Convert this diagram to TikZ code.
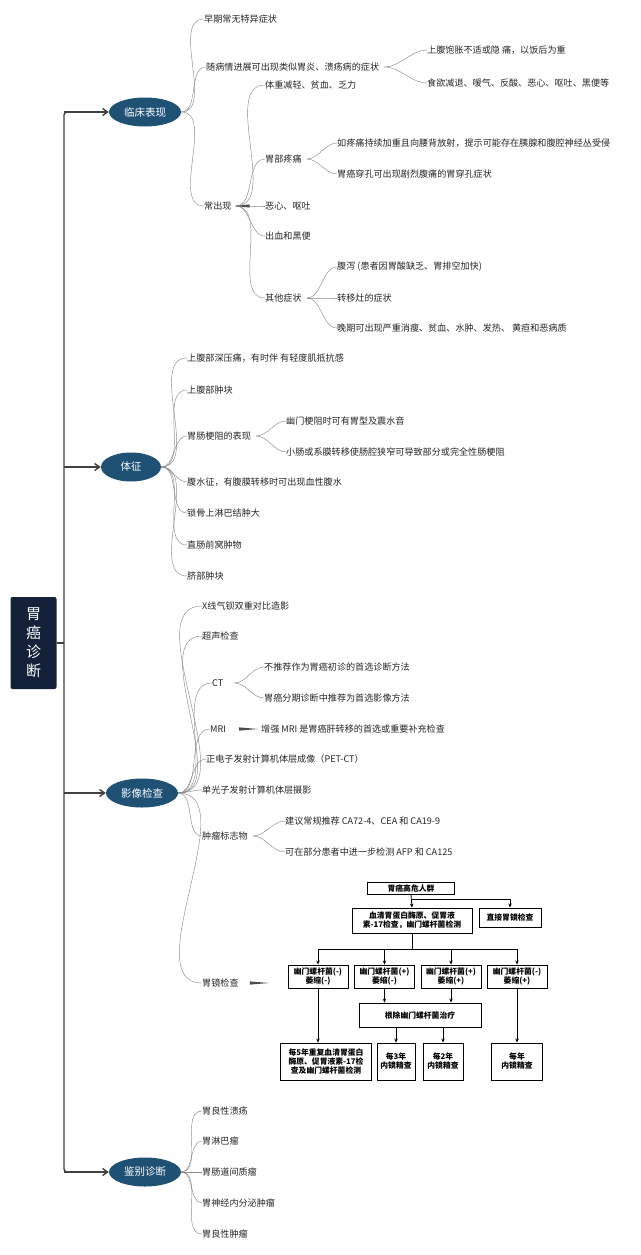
\documentclass[tikz,border=0pt]{standalone}
\usepackage{fontspec}
\setmainfont{Noto Sans CJK SC}
\usetikzlibrary{arrows.meta,calc,shapes.geometric}
\definecolor{navy}{HTML}{1F5175}
\definecolor{rootc}{HTML}{132238}
\tikzset{
 lf/.style={anchor=west,inner sep=1pt,font=\fontsize{9.1}{10}\selectfont,text=black!85},
 mainell/.style={ellipse,fill=navy,text=white,minimum width=72pt,minimum height=29pt,inner sep=0pt,font=\fontsize{10.5}{12}\selectfont},
 br/.style={draw=black!45,line width=0.45pt},
 trunk/.style={draw=black!75,line width=1.4pt},
 fb/.style={draw=black,line width=0.9pt,align=center,inner sep=1pt,font=\bfseries\fontsize{7.8}{9}\selectfont},
 fa/.style={draw=black,line width=0.8pt,-{Stealth[length=4pt,width=3.5pt]}},
}
\newcommand\brc[2]{\draw[br] (#1) to[out=0,in=180,looseness=0.9] ($(#2.west)+(1,0)$);}
\newcommand\wdg[2]{\fill[black!70] ($(#1)+(0,-1.6)$) -- ($(#1)+(0,1.6)$) -- (#2) -- cycle;}
\begin{document}
\begin{tikzpicture}[x=1pt,y=-1pt]
\fill[white] (0,0) rectangle (640,1255);
\useasboundingbox (0,0) rectangle (640,1255);
% root
\node[fill=rootc,rounded corners=2pt,minimum width=46pt,minimum height=92pt,text=white,align=center,font=\fontsize{15}{19}\selectfont] (root) at (33.5,643) {胃\\癌\\诊\\断};
% main nodes
\node[mainell] (m1) at (145,112) {临床表现};
\node[mainell,minimum width=60pt] (m2) at (131,467) {体征};
\node[mainell] (m3) at (142,793) {影像检查};
\node[mainell] (m4) at (145,1172) {鉴别诊断};
\coordinate (t1) at (64,112);
\coordinate (t4) at (64,1172);
\draw[trunk,rounded corners=3pt] ($(m1.west)+(-4,0)$) -- (t1) -- (t4) -- ($(m4.west)+(-4,0)$);
\draw[trunk] (root.east) -- (64,643);
\foreach \m in {m1,m2,m3,m4}{\draw[trunk,-{Straight Barb[length=5pt,width=7pt]}] (64,0 |- \m.west) -- (\m.west);}
% ---- 临床表现
\coordinate (o1) at (m1.east);
\node[lf] (a1) at (203,19) {早期常无特异症状};
\node[lf] (a2) at (205,67) {随病情进展可出现类似胃炎、溃疡病的症状};
\node[lf] (a3) at (203,206) {常出现};
\foreach \c in {a1,a2,a3}{\brc{o1}{\c}}
\coordinate (o2) at ($(a2.east)+(4,0)$);
\node[lf] (a21) at (426,50) {上腹饱胀不适或隐 痛，以饭后为重};
\node[lf] (a22) at (426,83) {食欲减退、嗳气、反酸、恶心、呕吐、黑便等};
\foreach \c in {a21,a22}{\brc{o2}{\c}}
\coordinate (o3) at ($(a3.east)+(3,0)$);
\node[lf] (b1) at (264,85) {体重减轻、贫血、乏力};
\node[lf] (b2) at (264,159) {胃部疼痛};
\node[lf] (b3) at (264,206) {恶心、呕吐};
\node[lf] (b4) at (264,236) {出血和黑便};
\node[lf] (b5) at (264,298) {其他症状};
\foreach \c in {b1,b2,b3,b4,b5}{\brc{o3}{\c}}
\wdg{$(o3)+(14,0)$}{o3}
\coordinate (o4) at ($(b2.east)+(4,0)$);
\node[lf] (b21) at (336,143) {如疼痛持续加重且向腰背放射，提示可能存在胰腺和腹腔神经丛受侵};
\node[lf] (b22) at (336,174) {胃癌穿孔可出现剧烈腹痛的胃穿孔症状};
\foreach \c in {b21,b22}{\brc{o4}{\c}}
\coordinate (o5) at ($(b5.east)+(4,0)$);
\node[lf] (b51) at (336,267) {腹泻 (患者因胃酸缺乏、胃排空加快)};
\node[lf] (b52) at (336,298) {转移灶的症状};
\node[lf] (b53) at (336,328) {晚期可出现严重消瘦、贫血、水肿、发热、 黄疸和恶病质};
\foreach \c in {b51,b52,b53}{\brc{o5}{\c}}
% ---- 体征
\coordinate (p1) at (m2.east);
\node[lf] (c1) at (186,358) {上腹部深压痛，有时伴 有轻度肌抵抗感};
\node[lf] (c2) at (186,390) {上腹部肿块};
\node[lf] (c3) at (186,436) {胃肠梗阻的表现};
\node[lf] (c4) at (186,482) {腹水征，有腹膜转移时可出现血性腹水};
\node[lf] (c5) at (186,513) {锁骨上淋巴结肿大};
\node[lf] (c6) at (186,545) {直肠前窝肿物};
\node[lf] (c7) at (186,576) {脐部肿块};
\foreach \c in {c1,c2,c3,c4,c5,c6,c7}{\brc{p1}{\c}}
\coordinate (p2) at ($(c3.east)+(4,0)$);
\node[lf] (c31) at (285,421) {幽门梗阻时可有胃型及震水音};
\node[lf] (c32) at (285,452) {小肠或系膜转移使肠腔狭窄可导致部分或完全性肠梗阻};
\foreach \c in {c31,c32}{\brc{p2}{\c}}
% ---- 影像检查
\coordinate (q1) at (m3.east);
\node[lf] (d1) at (201,606) {X线气钡双重对比造影};
\node[lf] (d2) at (201,636) {超声检查};
\node[lf] (d3) at (211,683) {CT};
\node[lf] (d4) at (209,729) {MRI};
\node[lf] (d5) at (205,759) {正电子发射计算机体层成像（PET-CT）};
\node[lf] (d6) at (201,790) {单光子发射计算机体层摄影};
\node[lf] (d7) at (201,836) {肿瘤标志物};
\node[lf] (d8) at (201,983) {胃镜检查};
\foreach \c in {d1,d2,d3,d4,d5,d6,d7,d8}{\brc{q1}{\c}}
\coordinate (q3) at ($(d3.east)+(10,0)$);
\node[lf] (d31) at (263,667) {不推荐作为胃癌初诊的首选诊断方法};
\node[lf] (d32) at (263,698) {胃癌分期诊断中推荐为首选影像方法};
\foreach \c in {d31,d32}{\brc{q3}{\c}}
\node[lf] (d41) at (260,729) {增强 MRI 是胃癌肝转移的首选或重要补充检查};
\wdg{$(d4.east)+(12,0)$}{$(d41.west)+(-2,0)$}
\coordinate (q7) at ($(d7.east)+(4,0)$);
\node[lf] (d71) at (284,821) {建议常规推荐 CA72-4、CEA 和 CA19-9};
\node[lf] (d72) at (284,852) {可在部分患者中进一步检测 AFP 和 CA125};
\foreach \c in {d71,d72}{\brc{q7}{\c}}
\coordinate (ge) at (269,983);
\wdg{$(d8.east)+(10,0)$}{ge}
% flowchart
\node[fb,minimum width=87pt,minimum height=12pt] (f0) at (411,888) {胃癌高危人群};
\node[fb,minimum width=120pt,minimum height=25pt] (f1) at (412,920.5) {血清胃蛋白酶原、促胃液\\素-17检查，幽门螺杆菌检测};
\node[fb,minimum width=62pt,minimum height=19pt] (f2) at (510,917.5) {直接胃镜检查};
\foreach \n/\x in {g1/318,g2/384.5,g3/451,g4/517}{\node[fb,minimum width=60pt,minimum height=23pt] (\n) at (\x,976.5) {};}
\node[fb,draw=none] at (g1) {幽门螺杆菌(-)\\萎缩(-)};
\node[fb,draw=none] at (g2) {幽门螺杆菌(+)\\萎缩(-)};
\node[fb,draw=none] at (g3) {幽门螺杆菌(+)\\萎缩(+)};
\node[fb,draw=none] at (g4) {幽门螺杆菌(-)\\萎缩(+)};
\node[fb,minimum width=122pt,minimum height=24pt] (th) at (420,1015) {根除幽门螺杆菌治疗};
\node[fb,minimum width=91pt,minimum height=37pt] (h1) at (326,1061.5) {每5年重复血清胃蛋白\\酶原、促胃液素-17检\\查及幽门螺杆菌检测};
\node[fb,minimum width=38pt,minimum height=37pt] (h2) at (396,1061.5) {每3年\\内镜精查};
\node[fb,minimum width=40pt,minimum height=37pt] (h3) at (443,1061.5) {每2年\\内镜精查};
\node[fb,minimum width=51pt,minimum height=37pt] (h4) at (517,1061.5) {每年\\内镜精查};
\draw[fa] (f0.south) -- (f1.north);
\draw[fa] (411,899) -| (f2.north);
\draw[line width=0.8pt] (f1.south) -- (412,949);
\draw[line width=0.8pt] (g1.north |- 0,949) -- (g4.north |- 0,949);
\foreach \n in {g1,g2,g3,g4}{\draw[fa] (\n.north |- 0,949) -- (\n.north);}
\draw[fa] (g1.south) -- (h1.north -| g1.south);
\draw[fa] (g2.south) -- (th.north -| g2.south);
\draw[fa] (g3.south) -- (th.north -| g3.south);
\draw[fa] (g4.south) -- (h4.north);
\draw[fa] (th.south -| h2.north) -- (h2.north);
\draw[fa] (th.south -| h3.north) -- (h3.north);
% ---- 鉴别诊断
\coordinate (r1) at (m4.east);
\node[lf] (e1) at (201,1111) {胃良性溃疡};
\node[lf] (e2) at (201,1141) {胃淋巴瘤};
\node[lf] (e3) at (201,1172) {胃肠道间质瘤};
\node[lf] (e4) at (201,1203) {胃神经内分泌肿瘤};
\node[lf] (e5) at (201,1234) {胃良性肿瘤};
\foreach \c in {e1,e2,e3,e4,e5}{\brc{r1}{\c}}
\end{tikzpicture}
\end{document}
